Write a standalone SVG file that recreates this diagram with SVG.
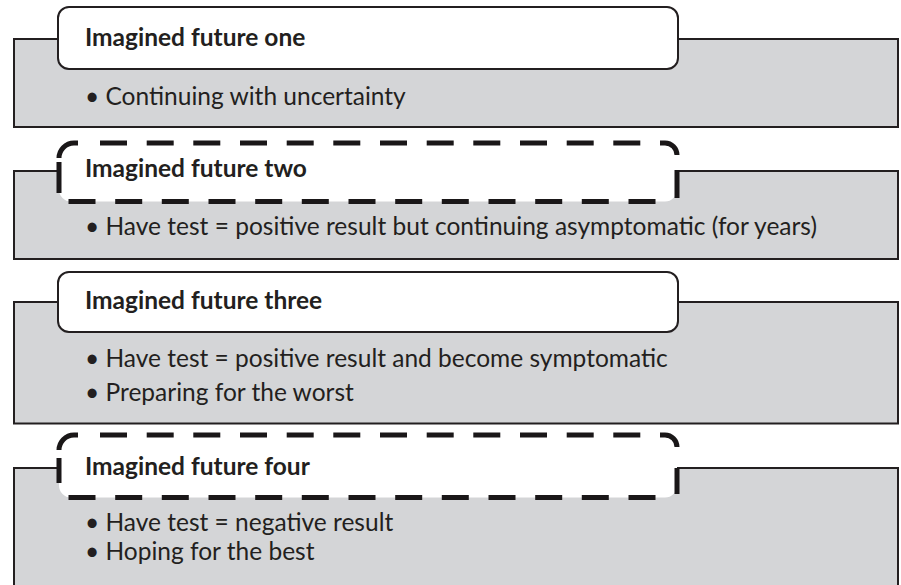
<svg xmlns="http://www.w3.org/2000/svg" width="901" height="585" viewBox="0 0 901 585">
<style>
.panel{fill:#d4d5d7;stroke:#231f20;stroke-width:2}
.head{fill:#ffffff;stroke:#231f20;stroke-width:2}
.dhead{fill:#ffffff;stroke:none}
.dash{fill:none;stroke:#1a1718;stroke-width:5;stroke-linecap:butt}
.title{font-family:Lato,"Open Sans",sans-serif;font-weight:bold;font-size:24.5px;fill:#231f20}
.item{font-family:Lato,"Open Sans",sans-serif;font-size:24.5px;fill:#231f20}
</style>
<rect width="901" height="585" fill="#ffffff"/>

<g id="future-one">
<rect class="panel" x="14" y="39" width="884" height="88"/>
<rect class="head" x="58" y="7" width="620" height="62" rx="11"/>
<text class="title" x="85" y="46">Imagined future one</text>
<text class="item" x="85" y="104.5">• Continuing with uncertainty</text>
</g>

<g id="future-two">
<rect class="panel" x="14" y="171" width="884" height="88"/>
<rect class="dhead" x="59" y="143" width="618" height="58.5" rx="12"/>
<path class="dash" d="M78,143H74A15,15 0 0 0 59,158 M59,162V193 M100,143h27 M146.7,143h27 M193.3,143h27 M240,143h27 M286.7,143h27 M333.3,143h27 M380,143h27 M426.7,143h27 M473.3,143h27 M520,143h27 M566.7,143h27 M613.3,143h27 M660,143H665A12,12 0 0 1 677,155 M677,170V198 M68.5,201.5h27 M115.2,201.5h27 M161.8,201.5h27 M208.5,201.5h27 M255.2,201.5h27 M301.8,201.5h27 M348.5,201.5h27 M395.2,201.5h27 M441.8,201.5h27 M488.5,201.5h27 M535.2,201.5h27 M581.8,201.5h27 M628.5,201.5h27"/>
<text class="title" x="85" y="177">Imagined future two</text>
<text class="item" x="85" y="234.5" textLength="732" lengthAdjust="spacing">• Have test = positive result but continuing asymptomatic (for years)</text>
</g>

<g id="future-three">
<rect class="panel" x="14" y="302" width="884" height="121.5"/>
<rect class="head" x="58" y="272" width="620" height="60" rx="11"/>
<text class="title" x="85" y="309">Imagined future three</text>
<text class="item" x="85" y="367">• Have test = positive result and become symptomatic</text>
<text class="item" x="85" y="401">• Preparing for the worst</text>
</g>

<g id="future-four">
<rect class="panel" x="14" y="468" width="884" height="130"/>
<rect class="dhead" x="59" y="435" width="618" height="62.5" rx="12"/>
<path class="dash" d="M78,435H74A15,15 0 0 0 59,450 M59,458V483 M100,435h27 M146.7,435h27 M193.3,435h27 M240,435h27 M286.7,435h27 M333.3,435h27 M380,435h27 M426.7,435h27 M473.3,435h27 M520,435h27 M566.7,435h27 M613.3,435h27 M660,435H665A12,12 0 0 1 677,447 M677,468V494 M68.5,497.5h27 M115.2,497.5h27 M161.8,497.5h27 M208.5,497.5h27 M255.2,497.5h27 M301.8,497.5h27 M348.5,497.5h27 M395.2,497.5h27 M441.8,497.5h27 M488.5,497.5h27 M535.2,497.5h27 M581.8,497.5h27 M628.5,497.5h27"/>
<text class="title" x="85" y="475">Imagined future four</text>
<text class="item" x="85" y="530.5">• Have test = negative result</text>
<text class="item" x="85" y="560">• Hoping for the best</text>
</g>
</svg>
